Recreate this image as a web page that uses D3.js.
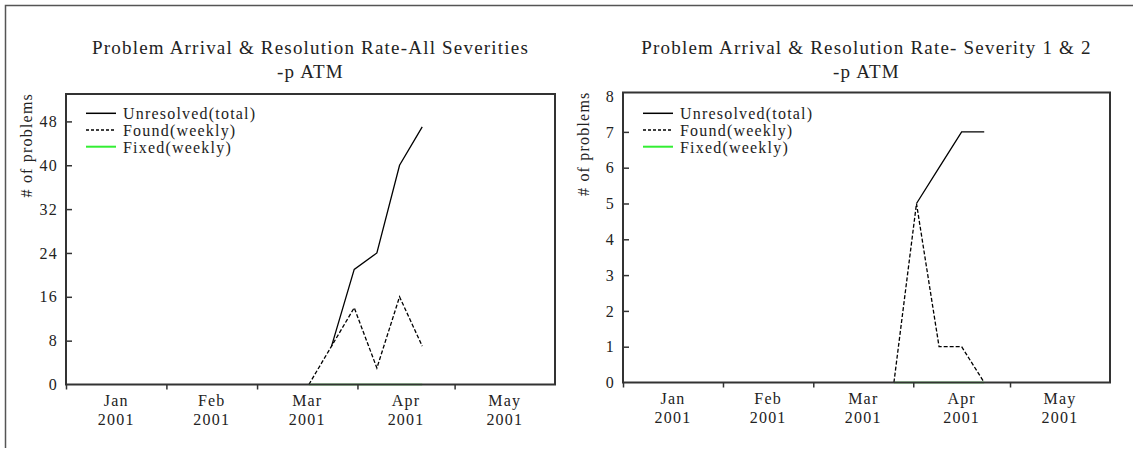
<!DOCTYPE html>
<html>
<head>
<meta charset="utf-8">
<script src="https://cdn.jsdelivr.net/npm/d3@7"></script>
<style>
  html, body { margin: 0; padding: 0; background: #fff; }
  svg { display: block; }
  text { font-family: "Liberation Serif", "Times New Roman", serif; fill: #222; letter-spacing: 1.2px; }
</style>
</head>
<body>
<div id="chart"></div>
<script>
// weekly problem counts
var allWeeks = ["2001-03-17", "2001-03-24", "2001-03-31", "2001-04-07", "2001-04-14", "2001-04-21"]
var allUnresolved = [null, 7, 21, 24, 40, 47]
var allFound = [0, 7, 14, 3, 16, 7]
var allFixed = [0, 0, 0, 0, 0, 0]

var sevWeeks = ["2001-03-26", "2001-04-02", "2001-04-09", "2001-04-16", "2001-04-23"]
var sevUnresolved = [null, 5, 6, 7, 7]
var sevFound = [0, 5, 1, 1, 0]
var sevFixed = [0, 0, 0, 0, 0]

var seriesNames = ["Unresolved(total)", "Found(weekly)", "Fixed(weekly)"]
var monthStart = "2001-01-01", monthEnd = "2001-06-01"
var allTicks = [0, 8, 16, 24, 32, 40, 48]
var sevTicks = [0, 1, 2, 3, 4, 5, 6, 7, 8]

;(function() {
  var
    WIDTH = 1133,
    HEIGHT = 451,
    AXIS_COLOR = "#333",
    parse = d3.timeParse("%Y-%m-%d")

  var svg = d3.select("#chart").append("svg")
    .attr("width", WIDTH)
    .attr("height", HEIGHT)

  svg.append("rect").attr("width", WIDTH).attr("height", HEIGHT).attr("fill", "#fff")

  // partial outer frame (top + left)
  svg.append("path")
    .attr("d", "M5.5 " + (HEIGHT - 3) + "V5.5H" + WIDTH)
    .attr("fill", "none")
    .attr("stroke", "#555")
    .attr("stroke-width", 1.5)

  var styles = [
    { color: "#000", dash: null },
    { color: "#000", dash: "4,2" },
    { color: "#33ee33", dash: null }
  ]

  drawChart({
    left: 66, right: 555, top: 94, bottom: 384.5,
    yMax: 53, yTicks: allTicks, weeks: allWeeks,
    titles: ["Problem Arrival & Resolution Rate-All Severities", "-p ATM"],
    series: [allUnresolved, allFound, allFixed]
  })

  drawChart({
    left: 623, right: 1110, top: 92.5, bottom: 382.5,
    yMax: 8.1, yTicks: sevTicks, weeks: sevWeeks,
    titles: ["Problem Arrival & Resolution Rate- Severity 1 & 2", "-p ATM"],
    series: [sevUnresolved, sevFound, sevFixed]
  })

  function drawChart(cfg) {
    var g = svg.append("g")
    var dates = cfg.weeks.map(parse)

    var x = d3.scaleTime()
      .domain([parse(monthStart), parse(monthEnd)])
      .range([cfg.left, cfg.right])
    var y = d3.scaleLinear()
      .domain([0, cfg.yMax])
      .range([cfg.bottom, cfg.top])

    var line = d3.line()
      .defined(function(d) { return d.v != null })
      .x(function(d) { return x(d.date) })
      .y(function(d) { return y(d.v) })

    // draw fixed first so the axis covers it, then found, then unresolved
    ;[2, 1, 0].forEach(function(i) {
      var pts = cfg.series[i].map(function(v, j) { return { date: dates[j], v: v } })
      g.append("path")
        .datum(pts)
        .attr("d", line)
        .attr("fill", "none")
        .attr("stroke", styles[i].color)
        .attr("stroke-width", 1.3)
        .attr("stroke-dasharray", styles[i].dash)
    })

    // frame
    g.append("rect")
      .attr("x", cfg.left).attr("y", cfg.top)
      .attr("width", cfg.right - cfg.left).attr("height", cfg.bottom - cfg.top)
      .attr("fill", "none")
      .attr("stroke", AXIS_COLOR)
      .attr("stroke-width", 2)

    // y axis, ticks pointing inward
    var yAxis = g.append("g")
      .attr("transform", "translate(" + cfg.left + ",0)")
      .call(d3.axisLeft(y).tickValues(cfg.yTicks).tickSizeInner(-6).tickSizeOuter(0).tickPadding(8))
    yAxis.select(".domain").remove()
    yAxis.selectAll(".tick line").attr("stroke", AXIS_COLOR).attr("stroke-width", 1.5)
      .filter(function(d) { return d === 0 || y(d) - cfg.top < 4 }).remove()
    yAxis.selectAll(".tick text")
      .attr("font-size", 16)
      .attr("font-family", null)
      .attr("fill", null)

    // x axis, ticks at month starts
    var months = d3.timeMonth.range(parse(monthStart), parse(monthEnd))
    var xAxis = g.append("g")
      .attr("transform", "translate(0," + cfg.bottom + ")")
      .call(d3.axisBottom(x).tickValues(months).tickSizeInner(5).tickSizeOuter(0).tickFormat(""))
    xAxis.select(".domain").remove()
    xAxis.selectAll(".tick line").attr("stroke", AXIS_COLOR).attr("stroke-width", 1.5)

    var labels = g.append("g").selectAll("text")
      .data(months)
      .join("text")
      .attr("text-anchor", "middle")
      .attr("font-size", 16)
      .attr("transform", function(d) {
        var mid = new Date((d.getTime() + d3.timeMonth.offset(d, 1).getTime()) / 2)
        return "translate(" + x(mid) + "," + (cfg.bottom + 21.5) + ")"
      })
    labels.append("tspan").attr("x", 0).attr("y", 0).text(d3.timeFormat("%b"))
    labels.append("tspan").attr("x", 0).attr("y", 18.5).text(d3.timeFormat("%Y"))

    // y label
    g.append("text")
      .attr("transform", "translate(" + (cfg.left - 34) + "," + (cfg.top - 1) + ") rotate(-90)")
      .attr("text-anchor", "end")
      .attr("font-size", 16)
      .text("# of problems")

    // title
    var cx = (cfg.left + cfg.right) / 2
    g.selectAll(".title")
      .data(cfg.titles)
      .join("text")
      .attr("class", "title")
      .attr("x", cx)
      .attr("y", function(d, i) { return 54 + i * 23.5 })
      .attr("text-anchor", "middle")
      .attr("font-size", 19)
      .text(function(d) { return d })

    // legend
    var leg = g.append("g").selectAll("g")
      .data(seriesNames)
      .join("g")
      .attr("transform", function(d, i) { return "translate(" + (cfg.left + 20) + "," + (113.3 + i * 16.7) + ")" })
    leg.append("line")
      .attr("x1", 0).attr("x2", 30)
      .attr("stroke", function(d, i) { return styles[i].color })
      .attr("stroke-dasharray", function(d, i) { return i === 1 ? "3,2" : null })
      .attr("stroke-width", function(d, i) { return i === 2 ? 2 : 1.5 })
    leg.append("text")
      .attr("x", 37)
      .attr("y", 6)
      .attr("font-size", 16)
      .text(function(d) { return d })
  }
})()
</script>
</body>
</html>
